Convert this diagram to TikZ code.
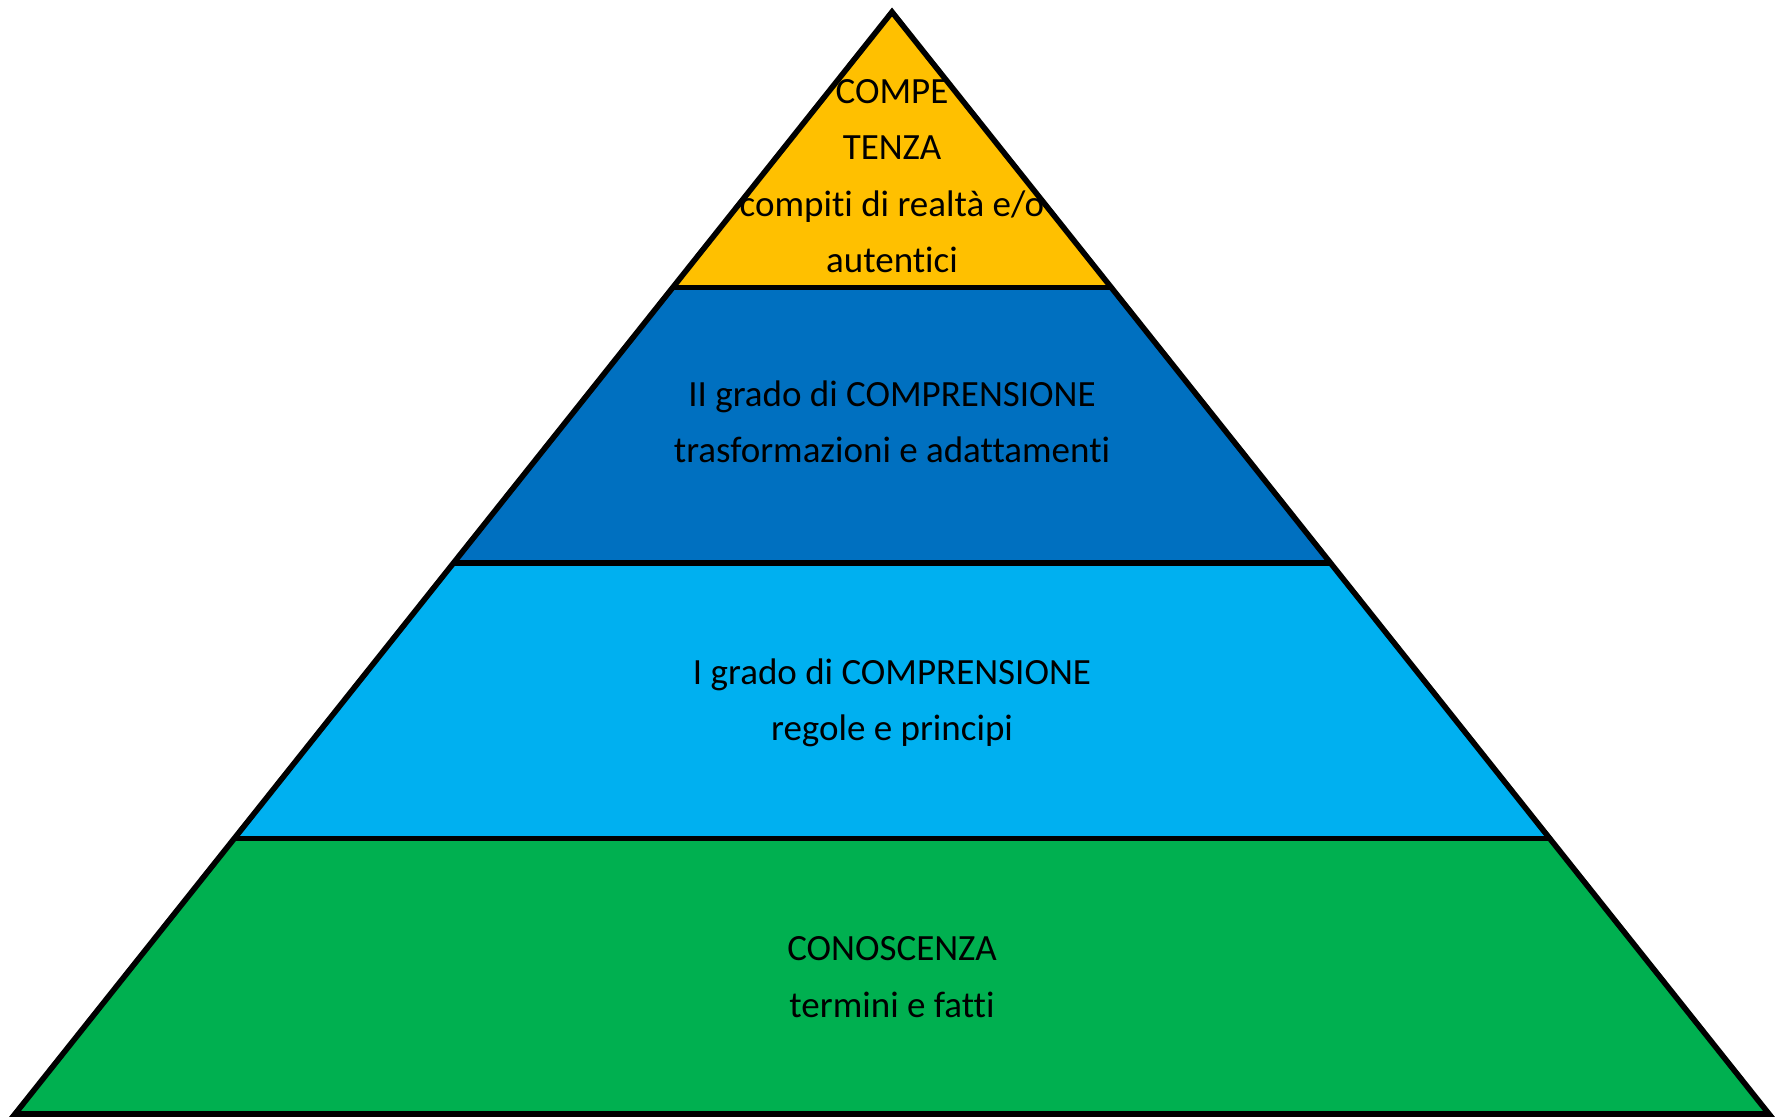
\documentclass[tikz,border=0pt]{standalone}
\usepackage{fontspec}
\setmainfont[Ligatures=NoCommon]{Carlito}
\usetikzlibrary{calc}
\definecolor{oro}{HTML}{FFC000}
\definecolor{blu}{HTML}{0070C0}
\definecolor{azzurro}{HTML}{00B0F0}
\definecolor{verde}{HTML}{00B050}
\tikzset{
	bordo/.style={draw=black,line width=2.8pt,line join=miter},
	testo/.style={align=center,inner sep=0pt,font=\fontsize{18.5}{28.25}\selectfont}
}
\begin{document}
\begin{tikzpicture}[x=0.5pt,y=-0.5pt]
		\useasboundingbox (0,0) rectangle (1780,1117);
		\coordinate (apex) at (892,12);
		\coordinate (bl) at (15,1114);
		\coordinate (br) at (1769,1114);
		\foreach \col [count=\i] in {oro,blu,azzurro,verde}{
			\fill[\col] ($(apex)!{(\i-1)/4}!(bl)$)--($(apex)!{\i/4}!(bl)$)--($(apex)!{\i/4}!(br)$)--($(apex)!{(\i-1)/4}!(br)$)--cycle;
		}
		\draw[bordo] (apex)--(bl)--(br)--cycle;
		\foreach \i in {1,2,3}{
			\draw[bordo] ($(apex)!{\i/4}!(bl)$)--($(apex)!{\i/4}!(br)$);
		}
		\node[testo] (competenza) at (892,176) {COMPE\\TENZA\\compiti di realtà e/o\\autentici};
		\node[testo] (comprensione2) at (892,422) {II grado di COMPRENSIONE\\trasformazioni e adattamenti};
		\node[testo] (comprensione1) at (892,703) {I grado di COMPRENSIONE\\regole e principi};
		\node[testo] (conoscenza) at (892,977) {CONOSCENZA\\termini e fatti};
	\end{tikzpicture}
\end{document}
